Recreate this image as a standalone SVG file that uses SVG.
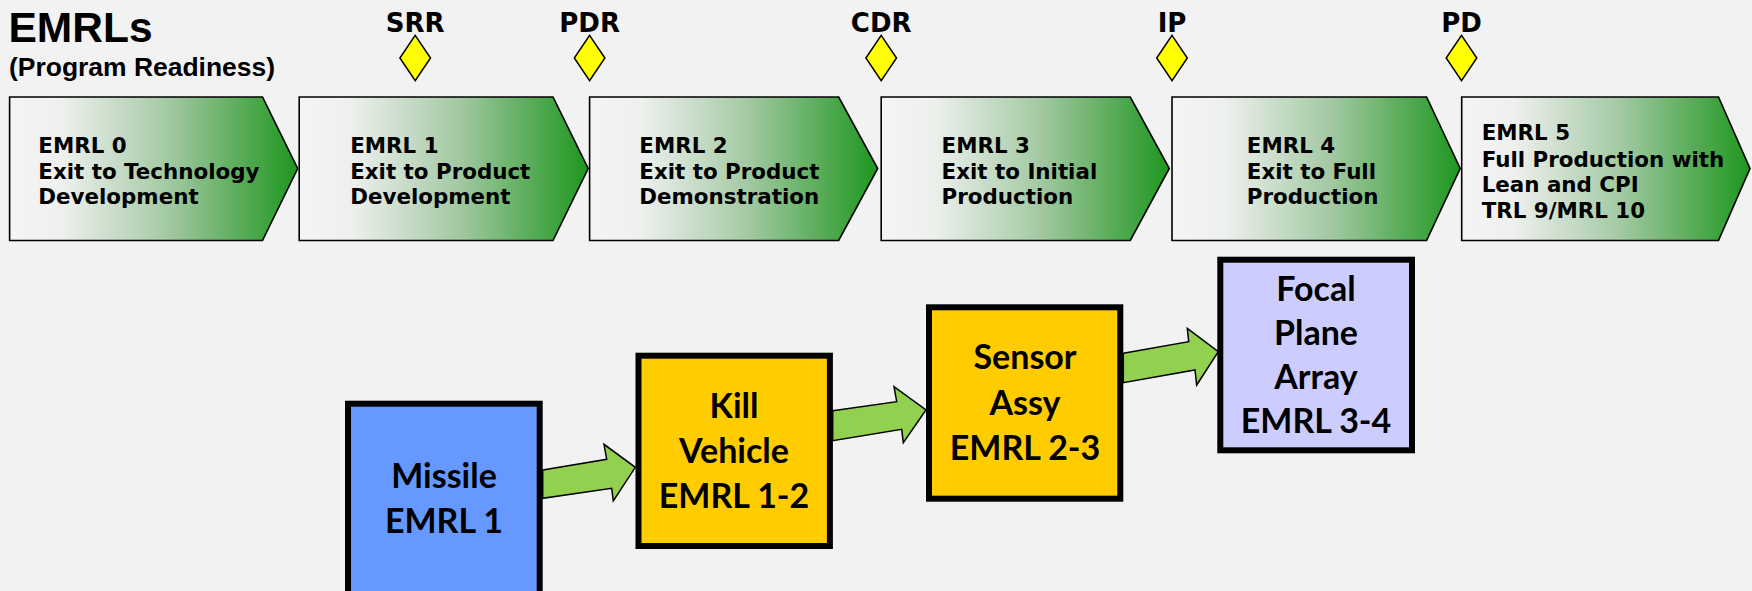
<svg xmlns="http://www.w3.org/2000/svg" width="1752" height="591" viewBox="0 0 1752 591">
  <defs>
    <linearGradient id="stageFill" x1="0" y1="0" x2="1" y2="0">
      <stop offset="0" stop-color="#f4f4f4"/>
      <stop offset="0.18" stop-color="#eef0ee"/>
      <stop offset="0.55" stop-color="#a3c9a3"/>
      <stop offset="1" stop-color="#1e961e"/>
    </linearGradient>
    <style>
      .title { font-family: "Liberation Sans", Arial, sans-serif; font-weight: bold; fill: #000; }
      .stage { fill: url(#stageFill); stroke: #000; stroke-width: 1.6; }
      .stage-text { font-family: "DejaVu Sans", Verdana, sans-serif; font-weight: bold; font-size: 21.4px; fill: #000; }
      .milestone { fill: #ffff00; stroke: #000; stroke-width: 1.5; }
      .milestone-label { font-family: "DejaVu Sans", Verdana, sans-serif; font-weight: bold; font-size: 26px; fill: #000; text-anchor: middle; }
      .box { stroke: #000; stroke-width: 6; }
      .box-text { font-family: Lato, "Open Sans", sans-serif; font-weight: bold; font-size: 34px; fill: #000; text-anchor: middle; }
      .flow { fill: #92d050; stroke: #000; stroke-width: 1.5; stroke-linejoin: miter; }
    </style>
  </defs>

  <rect x="0" y="0" width="1752" height="591" fill="#f2f2f2"/>

  <!-- heading -->
  <g id="heading">
    <text class="title" x="8.5" y="42" font-size="42.5">EMRLs</text>
    <text class="title" x="9" y="76" font-size="25" textLength="266" lengthAdjust="spacingAndGlyphs">(Program Readiness)</text>
  </g>

  <!-- milestone markers -->
  <g id="milestone-srr">
    <text class="milestone-label" x="415.2" y="32">SRR</text>
    <polygon class="milestone" points="415.2,35.3 430.5,58 415.2,80.7 399.9,58"/>
  </g>
  <g id="milestone-pdr">
    <text class="milestone-label" x="589.6" y="32">PDR</text>
    <polygon class="milestone" points="589.6,35.3 604.9,58 589.6,80.7 574.3,58"/>
  </g>
  <g id="milestone-cdr">
    <text class="milestone-label" x="881.2" y="32">CDR</text>
    <polygon class="milestone" points="881.2,35.3 896.5,58 881.2,80.7 865.9,58"/>
  </g>
  <g id="milestone-ip">
    <text class="milestone-label" x="1172" y="32">IP</text>
    <polygon class="milestone" points="1172,35.3 1187.3,58 1172,80.7 1156.7,58"/>
  </g>
  <g id="milestone-pd">
    <text class="milestone-label" x="1461.5" y="32">PD</text>
    <polygon class="milestone" points="1461.5,35.3 1476.8,58 1461.5,80.7 1446.2,58"/>
  </g>

  <!-- readiness stages -->
  <g id="stage-0">
    <polygon class="stage" points="9.6,97 262.5,97 297.7,168.5 262.5,240.5 9.6,240.5"/>
    <text class="stage-text"><tspan x="38.3" y="152.7">EMRL 0</tspan><tspan x="38.3" y="179">Exit to Technology</tspan><tspan x="38.3" y="204">Development</tspan></text>
  </g>
  <g id="stage-1">
    <polygon class="stage" points="299.2,97 553,97 588.2,168.5 553,240.5 299.2,240.5"/>
    <text class="stage-text"><tspan x="350.2" y="152.7">EMRL 1</tspan><tspan x="350.2" y="179">Exit to Product</tspan><tspan x="350.2" y="204">Development</tspan></text>
  </g>
  <g id="stage-2">
    <polygon class="stage" points="589.6,97 838.7,97 877.7,168.5 838.7,240.5 589.6,240.5"/>
    <text class="stage-text"><tspan x="639.3" y="152.7">EMRL 2</tspan><tspan x="639.3" y="179">Exit to Product</tspan><tspan x="639.3" y="204">Demonstration</tspan></text>
  </g>
  <g id="stage-3">
    <polygon class="stage" points="881.2,97 1130.3,97 1169.3,168.5 1130.3,240.5 881.2,240.5"/>
    <text class="stage-text"><tspan x="941.6" y="152.7">EMRL 3</tspan><tspan x="941.6" y="179">Exit to Initial</tspan><tspan x="941.6" y="204">Production</tspan></text>
  </g>
  <g id="stage-4">
    <polygon class="stage" points="1172,97 1426.6,97 1460.2,168.5 1426.6,240.5 1172,240.5"/>
    <text class="stage-text"><tspan x="1246.8" y="152.7">EMRL 4</tspan><tspan x="1246.8" y="179">Exit to Full</tspan><tspan x="1246.8" y="204">Production</tspan></text>
  </g>
  <g id="stage-5">
    <polygon class="stage" points="1461.7,97 1718.5,97 1750,168.5 1718.5,240.5 1461.7,240.5"/>
    <text class="stage-text"><tspan x="1481.7" y="140">EMRL 5</tspan><tspan x="1481.7" y="166.5">Full Production with</tspan><tspan x="1481.7" y="192">Lean and CPI</tspan><tspan x="1481.7" y="217.5">TRL 9/MRL 10</tspan></text>
  </g>

  <!-- system breakdown -->
  <g id="node-missile">
    <rect class="box" x="348" y="403.7" width="191.7" height="200" fill="#6699ff"/>
    <text class="box-text"><tspan x="444" y="488">Missile</tspan><tspan x="444" y="533">EMRL 1</tspan></text>
  </g>
  <g id="node-kill-vehicle">
    <rect class="box" x="638.5" y="355.7" width="191.4" height="190.3" fill="#ffcc00"/>
    <text class="box-text"><tspan x="734" y="418.3">Kill</tspan><tspan x="734" y="463.3">Vehicle</tspan><tspan x="734" y="508.3">EMRL 1-2</tspan></text>
  </g>
  <g id="node-sensor-assy">
    <rect class="box" x="929" y="307.3" width="191.3" height="191.4" fill="#ffcc00"/>
    <text class="box-text"><tspan x="1025" y="369.3">Sensor</tspan><tspan x="1025" y="415">Assy</tspan><tspan x="1025" y="460">EMRL 2-3</tspan></text>
  </g>
  <g id="node-focal-plane-array">
    <rect class="box" x="1220.3" y="259.7" width="191.7" height="190.6" fill="#ccccff"/>
    <text class="box-text"><tspan x="1316" y="301">Focal</tspan><tspan x="1316" y="345">Plane</tspan><tspan x="1316" y="388.5">Array</tspan><tspan x="1316" y="433.3">EMRL 3-4</tspan></text>
  </g>

  <!-- block arrows between levels -->
  <g id="connectors">
    <polygon class="flow" points="542.7,470 606.7,459.3 604,444.3 635.3,467.3 613.3,501 611.7,488.3 542.7,498.3"/>
    <polygon class="flow" points="832.7,410.7 896.7,401.7 894,386.7 926,410 903.3,442.7 901.7,429.3 832.7,440.7"/>
    <polygon class="flow" points="1123.3,353.3 1188.7,341.7 1187.3,328.3 1218.3,351.7 1196.7,385 1195,370 1123.3,382.7"/>
  </g>
</svg>
